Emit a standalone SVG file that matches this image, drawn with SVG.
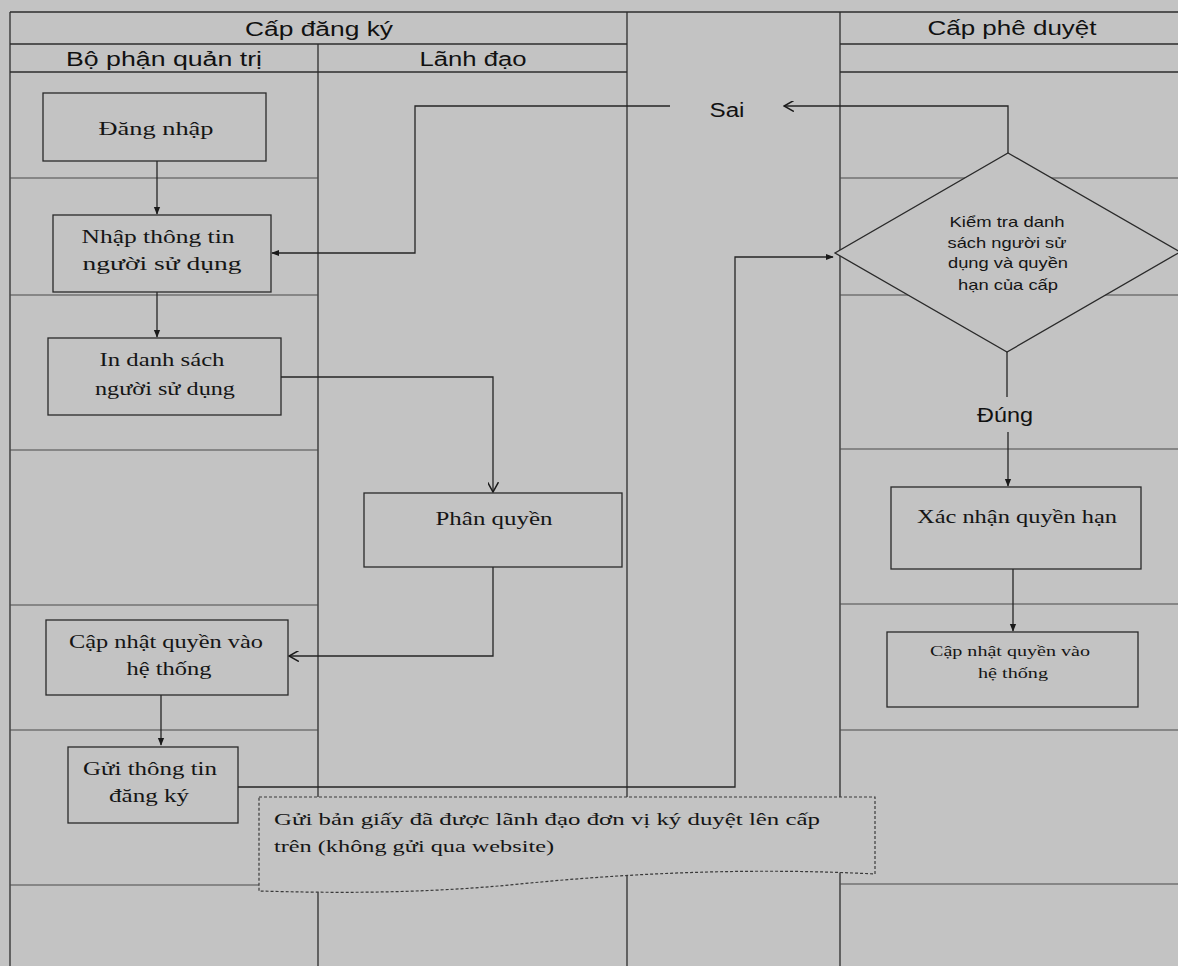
<svg xmlns="http://www.w3.org/2000/svg" width="1178" height="966" viewBox="0 0 1178 966">
<defs>
<style>
.lane{stroke:#2e2e2e;stroke-width:1.3;fill:none}
.row{stroke:#4a4a4a;stroke-width:1.1;fill:none}
.hd{font-family:"Liberation Sans",Arial,sans-serif;font-size:20px;fill:#111;text-anchor:middle}
.box{fill:#c3c3c3;stroke:#2a2a2a;stroke-width:1.3}
.st{font-family:"Liberation Serif","Times New Roman",serif;font-size:19px;fill:#151515;text-anchor:middle}
.ss{font-family:"Liberation Sans",Arial,sans-serif;font-size:15px;fill:#151515;text-anchor:middle}
.sm{font-family:"Liberation Serif","Times New Roman",serif;font-size:14px;fill:#151515;text-anchor:middle}
.lb{font-family:"Liberation Sans",Arial,sans-serif;font-size:20px;fill:#111;text-anchor:middle}
.cn{stroke:#262626;stroke-width:1.3;fill:none}
.note{fill:#c3c3c3;stroke:#3a3a3a;stroke-width:1.2;stroke-dasharray:3 2}
.nt{font-family:"Liberation Serif","Times New Roman",serif;font-size:17px;fill:#151515}
</style>
<marker id="af" viewBox="0 0 10 10" refX="9" refY="5" markerWidth="8" markerHeight="8" markerUnits="userSpaceOnUse" orient="auto">
<path d="M0,1 L10,5 L0,9 z" fill="#1a1a1a"/>
</marker>
<marker id="ao" viewBox="0 0 10 10" refX="9" refY="5" markerWidth="11" markerHeight="11" markerUnits="userSpaceOnUse" orient="auto">
<path d="M0,0 L9,5 L0,10" fill="none" stroke="#1a1a1a" stroke-width="1.4"/>
</marker>
</defs>
<rect x="0" y="0" width="1178" height="966" fill="#c3c3c3"/>

<g id="lanes">
<path class="lane" d="M10,12 H1178 M10,12 V966 M318,44 V966 M627,12 V966 M840,12 V966"/>
<path class="lane" d="M10,44 H627 M10,72 H627 M840,44 H1178 M840,72 H1178"/>
<path class="row" d="M10,178 H318 M10,295 H318 M10,450 H318 M10,605 H318 M10,730 H318 M10,885 H318"/>
<path class="row" d="M840,178 H1178 M840,295 H1178 M840,449 H1178 M840,604 H1178 M840,730 H1178 M840,884 H1178"/>
<text class="hd" x="319" y="36" textLength="148" lengthAdjust="spacingAndGlyphs">Cấp đăng ký</text>
<text class="hd" x="164" y="66" textLength="196" lengthAdjust="spacingAndGlyphs">Bộ phận quản trị</text>
<text class="hd" x="473" y="66" textLength="107" lengthAdjust="spacingAndGlyphs">Lãnh đạo</text>
<text class="hd" x="1012" y="35" textLength="169" lengthAdjust="spacingAndGlyphs">Cấp phê duyệt</text>
</g>

<g id="callout">
<path class="note" d="M259,797 H875 V874 C760,868 640,872 520,884 C420,894 330,893 259,891 Z"/>
<text class="nt" x="274" y="825" textLength="546" lengthAdjust="spacingAndGlyphs">Gửi bản giấy đã được lãnh đạo đơn vị ký duyệt lên cấp</text>
<text class="nt" x="274" y="852" textLength="280" lengthAdjust="spacingAndGlyphs">trên (không gửi qua website)</text>
</g>

<g id="connectors">
<path class="cn" d="M157,161 V214" marker-end="url(#af)"/>
<path class="cn" d="M157,292 V337" marker-end="url(#af)"/>
<path class="cn" d="M281,377 H493 V492" marker-end="url(#ao)"/>
<path class="cn" d="M493,567 V656 H289" marker-end="url(#ao)"/>
<path class="cn" d="M161,695 V745" marker-end="url(#af)"/>
<path class="cn" d="M238,787 H735 V257 H833" marker-end="url(#af)"/>
<path class="cn" d="M1008,153 V106 H784" marker-end="url(#ao)"/>
<path class="cn" d="M670,106 H415 V253 H272" marker-end="url(#af)"/>
<path class="cn" d="M1007,352 V397"/>
<path class="cn" d="M1008,432 V486" marker-end="url(#af)"/>
<path class="cn" d="M1013,569 V631" marker-end="url(#af)"/>
<text class="lb" x="727" y="117" font-size="19" textLength="35" lengthAdjust="spacingAndGlyphs">Sai</text>
<text class="lb" x="1005" y="422" textLength="56" lengthAdjust="spacingAndGlyphs">Đúng</text>
</g>

<g id="dang-nhap">
<rect class="box" x="43" y="93" width="223" height="68"/>
<text class="st" x="156" y="135" textLength="115" lengthAdjust="spacingAndGlyphs">Đăng nhập</text>
</g>

<g id="nhap-thong-tin">
<rect class="box" x="53" y="215" width="218" height="77"/>
<text class="st" x="158" y="243" textLength="153" lengthAdjust="spacingAndGlyphs">Nhập thông tin</text>
<text class="st" x="162" y="270" textLength="159" lengthAdjust="spacingAndGlyphs">người sử dụng</text>
</g>

<g id="in-danh-sach">
<rect class="box" x="48" y="338" width="233" height="77"/>
<text class="st" x="162" y="366" textLength="125" lengthAdjust="spacingAndGlyphs">In danh sách</text>
<text class="st" x="165" y="395" textLength="140" lengthAdjust="spacingAndGlyphs">người sử dụng</text>
</g>

<g id="phan-quyen">
<rect class="box" x="364" y="493" width="258" height="74"/>
<text class="st" x="494" y="525" textLength="117" lengthAdjust="spacingAndGlyphs">Phân quyền</text>
</g>

<g id="cap-nhat-1">
<rect class="box" x="46" y="620" width="242" height="75"/>
<text class="st" x="166" y="648" textLength="194" lengthAdjust="spacingAndGlyphs">Cập nhật quyền vào</text>
<text class="st" x="169" y="675" textLength="85" lengthAdjust="spacingAndGlyphs">hệ thống</text>
</g>

<g id="gui-thong-tin">
<rect class="box" x="68" y="747" width="170" height="76"/>
<text class="st" x="150" y="775" textLength="134" lengthAdjust="spacingAndGlyphs">Gửi thông tin</text>
<text class="st" x="149" y="802" textLength="80" lengthAdjust="spacingAndGlyphs">đăng ký</text>
</g>

<g id="kiem-tra">
<path class="box" d="M1008,153 L1180,252 L1007,352 L835,253 Z"/>
<text class="ss" x="1007" y="227" textLength="115" lengthAdjust="spacingAndGlyphs">Kiểm tra danh</text>
<text class="ss" x="1007" y="248" textLength="119" lengthAdjust="spacingAndGlyphs">sách người sử</text>
<text class="ss" x="1008" y="268" textLength="120" lengthAdjust="spacingAndGlyphs">dụng và quyền</text>
<text class="ss" x="1008" y="290" textLength="100" lengthAdjust="spacingAndGlyphs">hạn của cấp</text>
</g>

<g id="xac-nhan">
<rect class="box" x="891" y="487" width="250" height="82"/>
<text class="st" x="1017" y="523" textLength="200" lengthAdjust="spacingAndGlyphs">Xác nhận quyền hạn</text>
</g>

<g id="cap-nhat-2">
<rect class="box" x="887" y="632" width="251" height="75"/>
<text class="sm" x="1010" y="656" textLength="160" lengthAdjust="spacingAndGlyphs">Cập nhật quyền vào</text>
<text class="sm" x="1013" y="678" textLength="70" lengthAdjust="spacingAndGlyphs">hệ thống</text>
</g>
</svg>
